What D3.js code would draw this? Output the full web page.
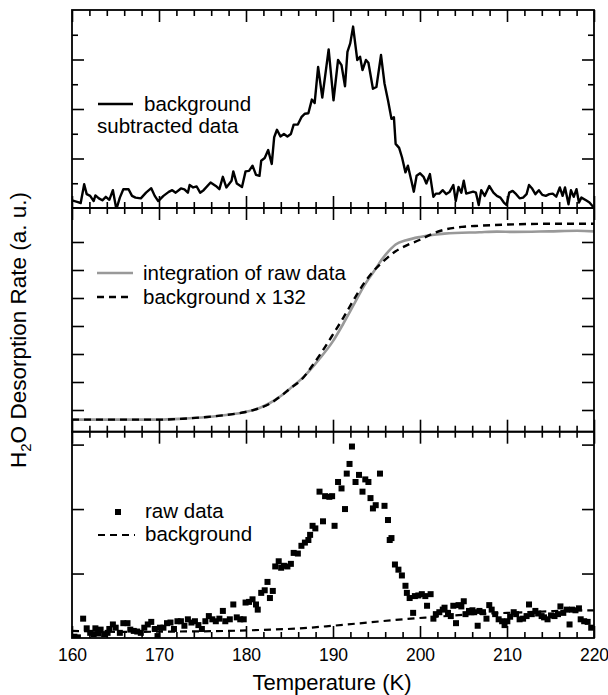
<!DOCTYPE html>
<html>
<head>
<meta charset="utf-8">
<script src="https://cdn.jsdelivr.net/npm/d3@7"></script>
<style>
  body { margin: 0; background: #fff; }
  text { font-family: Arial, "Liberation Sans", sans-serif; fill: #000; }
</style>
</head>
<body>
<svg id="chart" width="608" height="695"></svg>
<script>
// ---- data ----
// top panel: background subtracted data
let subT = [160.0,160.68,161.0,161.4,161.69,162.09,162.49,162.69,163.09,163.49,163.89,164.29,164.7,165.1,165.5,165.9,166.5,166.9,167.3,167.91,168.51,169.11,169.51,169.91,170.51,171.12,171.52,171.92,172.52,172.92,173.32,173.52,173.93,174.33,174.73,175.13,175.93,176.53,176.94,177.34,177.74,178.34,178.54,178.94,179.54,179.95,180.35,180.75,181.15,181.55,181.75,182.15,182.55,182.96,183.24,183.56,183.96,184.36,184.76,185.16,185.48,185.96,186.37,186.77,187.17,187.57,187.89,188.29,188.77,189.5,190.06,190.58,190.98,191.38,191.66,191.98,192.31,192.79,193.11,193.39,193.79,194.07,194.59,194.99,195.52,195.92,196.32,196.72,197.0,197.2,197.6,197.93,198.33,198.61,199.01,199.29,199.61,200.01,200.41,200.73,201.14,201.54,201.82,202.22,202.62,203.02,203.42,203.83,204.11,204.43,204.75,205.03,205.31,205.71,206.11,206.43,206.75,207.04,207.44,207.96,208.44,208.84,209.24,209.64,209.96,210.25,210.65,211.05,211.45,211.85,212.25,212.53,212.86,213.26,213.66,214.06,214.46,214.86,215.26,215.66,216.07,216.39,216.67,217.07,217.35,217.67,217.99,218.27,218.55,219.08,219.48,220.0];
let subV = [0.31,0.24,0.2,0.96,0.56,0.49,0.28,0.51,0.39,0.31,0.45,0.33,0.72,-0.05,0.42,0.76,0.76,0.49,0.42,0.39,0.62,0.8,0.49,0.28,0.49,0.65,0.72,0.62,0.79,0.75,0.62,0.93,0.83,0.87,0.62,0.72,1.03,0.89,0.76,1.26,0.83,1.1,1.48,0.99,0.85,1.48,1.5,1.71,1.34,1.3,1.91,2.02,2.34,1.78,2.86,3.16,2.89,2.99,2.89,2.99,3.37,3.37,3.67,3.81,3.83,4.38,4.24,5.7,4.46,6.41,4.35,5.98,5.77,4.92,6.31,6.65,7.33,5.98,6.11,5.57,5.98,5.87,4.82,4.89,6.18,5.03,4.35,3.6,3.67,2.59,2.43,2.05,1.44,1.71,1.1,0.66,1.3,1.4,1.26,0.99,1.37,0.45,0.58,0.58,0.72,0.56,0.66,0.93,0.28,0.85,0.62,1.1,0.58,0.62,0.66,0.62,0.12,0.72,0.49,0.89,0.62,0.49,0.42,0.22,0.12,0.62,0.69,0.56,0.39,0.42,0.56,0.93,0.8,0.56,0.72,0.53,0.49,0.56,0.58,0.46,0.83,0.49,0.83,0.15,0.72,0.45,0.76,0.22,0.42,0.31,0.22,0.01];

// middle panel: integration of raw data (grey) and background x 132 (dashed)
let intT = [160,169.91,172.72,175.53,177.94,179.95,181.55,182.75,183.96,185.16,186.77,188.37,189.98,191.18,192.39,193.59,194.79,195.6,196.4,197.2,198.41,200.01,201.62,202.82,206.83,208.84,210.85,214.86,218.07,220];
let intV = [0.655,0.655,0.69,0.75,0.83,0.93,1.07,1.25,1.49,1.79,2.23,2.8,3.45,4.08,4.76,5.44,5.99,6.37,6.67,6.91,7.06,7.18,7.26,7.3,7.35,7.37,7.36,7.38,7.4,7.38];
let bgScT = [160,169.91,172.72,175.53,177.94,179.95,181.55,182.75,183.96,185.16,186.37,187.57,188.77,189.98,191.18,192.39,193.59,194.79,196.0,197.2,198.41,200.01,201.62,202.82,204.83,206.83,210.85,214.86,220];
let bgScV = [0.655,0.655,0.69,0.75,0.83,0.93,1.07,1.23,1.49,1.79,2.08,2.56,3.1,3.69,4.29,4.94,5.54,6.01,6.37,6.67,6.87,7.08,7.32,7.44,7.54,7.58,7.63,7.65,7.65];

// bottom panel: raw data (squares) and background (dashed)
let rawT = [160.28,160.68,161.28,161.69,162.09,162.49,162.69,163.01,163.29,163.69,164.09,164.29,164.7,165.02,165.5,165.9,166.38,166.7,167.1,167.5,167.91,168.31,168.71,169.11,169.51,169.83,170.11,170.51,170.92,171.32,171.72,172.12,172.52,172.92,173.32,173.73,174.13,174.53,174.93,175.33,175.73,176.13,176.53,176.94,177.34,177.62,178.14,178.54,178.94,179.34,179.74,179.95,180.35,180.75,181.15,181.35,181.75,182.15,182.47,182.75,183.08,183.36,183.76,184.04,184.36,184.76,185.16,185.48,185.96,186.37,186.77,187.17,187.37,187.65,187.97,188.45,188.85,189.09,189.58,189.9,190.18,190.58,190.98,191.38,191.58,191.9,192.18,192.59,192.99,193.39,193.71,194.07,194.31,194.59,194.91,195.4,195.92,196.32,196.52,196.72,197.12,197.52,197.92,198.33,198.49,198.81,199.21,199.41,199.81,200.21,200.61,200.81,201.22,201.54,201.82,202.22,202.62,202.82,203.22,203.54,203.83,204.14,204.43,204.75,205.03,205.23,205.63,206.03,206.23,206.63,206.83,207.24,207.64,207.96,208.24,208.64,209.04,209.44,209.72,210.04,210.36,210.77,211.05,211.45,211.85,212.25,212.53,212.85,213.26,213.58,213.98,214.26,214.66,215.06,215.46,215.86,216.14,216.47,216.87,217.19,217.47,217.87,218.27,218.47,218.87,219.27,219.68];
let rawV = [0.02,0.01,0.3,0.15,0.08,0.06,0.15,0.07,0.13,0.06,0.08,0.14,0.21,0.16,0.08,0.23,0.23,0.13,0.11,0.1,0.08,0.16,0.21,0.25,0.14,0.03,0.16,0.16,0.23,0.24,0.14,0.26,0.26,0.19,0.29,0.24,0.26,0.2,0.14,0.26,0.34,0.29,0.26,0.3,0.42,0.26,0.29,0.52,0.32,0.29,0.29,0.55,0.56,0.6,0.52,0.44,0.7,0.74,0.87,0.62,0.73,1.11,1.19,1.09,1.12,1.11,1.15,1.32,1.31,1.43,1.48,1.52,1.6,1.74,1.7,2.27,1.81,2.2,2.19,2.2,1.74,2.42,2.32,2.0,2.55,2.7,2.97,2.42,2.53,2.27,2.46,2.42,2.17,2.01,2.06,2.55,2.05,1.83,1.52,1.55,1.14,1.06,0.97,0.81,0.7,0.62,0.39,0.65,0.66,0.68,0.65,0.5,0.68,0.3,0.37,0.4,0.44,0.47,0.39,0.34,0.5,0.23,0.51,0.49,0.57,0.37,0.42,0.43,0.4,0.19,0.42,0.4,0.3,0.51,0.44,0.37,0.29,0.26,0.2,0.26,0.33,0.4,0.37,0.29,0.3,0.34,0.52,0.37,0.42,0.38,0.34,0.32,0.29,0.35,0.34,0.37,0.49,0.39,0.44,0.21,0.44,0.43,0.46,0.29,0.26,0.25,0.16];
let bgT = [160,165.9,171.92,177.94,181.95,185.96,189.98,194.0,198.0,202.0,206.03,210.04,214.05,218.07,220];
let bgV = [0.11,0.095,0.1,0.11,0.126,0.147,0.19,0.24,0.29,0.33,0.37,0.39,0.41,0.43,0.43];

let xMajor = [160,170,180,190,200,210,220];
let xMinor = d3.range(160, 221, 2).filter(t => t % 10 !== 0);

// ---- layout ----
let svg = d3.select('#chart');
let left = 72, right = 594;
let x = d3.scaleLinear().domain([160, 220]).range([left, right]);

let panels = [
  { id: 'top', y: d3.scaleLinear().domain([0, 8]).range([208, 10]), major: [2,4,6], minor: [1,3,5,7] },
  { id: 'mid', y: d3.scaleLinear().domain([0.225, 8.214]).range([431.7, 208]), major: [1,2,3,4,5,6,7], minor: [] },
  { id: 'bot', y: d3.scaleLinear().domain([0, 3.2]).range([638, 431.7]), major: [1,2,3], minor: [] }
];

panels.forEach((p) => {
  let [y0, y1] = p.y.range(); // bottom, top
  let g = svg.append('g').attr('id', p.id);
  p.g = g;

  // clip
  svg.append('clipPath').attr('id', 'clip-' + p.id)
    .append('rect').attr('x', left).attr('y', y1).attr('width', right - left).attr('height', y0 - y1);
  p.plot = g.append('g').attr('clip-path', 'url(#clip-' + p.id + ')');

  // x ticks, bottom and top, pointing in
  let bottomLabels = p.id === 'bot';
  g.append('g').attr('transform', `translate(0,${y0})`)
    .call(d3.axisBottom(x).tickValues(xMajor).tickSize(-12).tickPadding(bottomLabels ? 11 : 0)
      .tickFormat(bottomLabels ? d3.format('d') : ''));
  g.append('g').attr('transform', `translate(0,${y0})`)
    .call(d3.axisBottom(x).tickValues(xMinor).tickSize(-6).tickFormat(''));
  g.append('g').attr('transform', `translate(0,${y1})`)
    .call(d3.axisTop(x).tickValues(xMajor).tickSize(-12).tickFormat(''));
  g.append('g').attr('transform', `translate(0,${y1})`)
    .call(d3.axisTop(x).tickValues(xMinor).tickSize(-6).tickFormat(''));

  // y ticks, left and right, pointing in
  g.append('g').attr('transform', `translate(${left},0)`)
    .call(d3.axisLeft(p.y).tickValues(p.major).tickSize(-12).tickFormat(''));
  g.append('g').attr('transform', `translate(${right},0)`)
    .call(d3.axisRight(p.y).tickValues(p.major).tickSize(-12).tickFormat(''));
  if (p.minor.length) {
    g.append('g').attr('transform', `translate(${left},0)`)
      .call(d3.axisLeft(p.y).tickValues(p.minor).tickSize(-6).tickFormat(''));
    g.append('g').attr('transform', `translate(${right},0)`)
      .call(d3.axisRight(p.y).tickValues(p.minor).tickSize(-6).tickFormat(''));
  }

  g.selectAll('.domain').remove();
  g.selectAll('.tick line').attr('stroke', '#000').attr('stroke-width', 1.6);

  // frame
  g.append('rect').attr('x', left).attr('y', y1).attr('width', right - left).attr('height', y0 - y1)
    .attr('fill', 'none').attr('stroke', '#000').attr('stroke-width', 1.8);
});

svg.selectAll('#bot .tick text').attr('font-size', 17.5).attr('fill', '#000')
  .attr('font-family', 'Arial, "Liberation Sans", sans-serif');

// ---- top panel ----
let pTop = panels[0];
let lineTop = d3.line().x((d, i) => x(subT[i])).y((d) => pTop.y(d));
pTop.plot.append('path').datum(subV)
  .attr('d', lineTop).attr('fill', 'none').attr('stroke', '#000')
  .attr('stroke-width', 2.4).attr('stroke-linejoin', 'round');

// ---- middle panel ----
let pMid = panels[1];
pMid.plot.append('path').datum(intV)
  .attr('d', d3.line().curve(d3.curveMonotoneX).x((d, i) => x(intT[i])).y((d) => pMid.y(d)))
  .attr('fill', 'none').attr('stroke', '#999').attr('stroke-width', 2.6);
pMid.plot.append('path').datum(bgScV)
  .attr('d', d3.line().curve(d3.curveMonotoneX).x((d, i) => x(bgScT[i])).y((d) => pMid.y(d)))
  .attr('fill', 'none').attr('stroke', '#000').attr('stroke-width', 2.4).attr('stroke-dasharray', '7,5');

// ---- bottom panel ----
let pBot = panels[2];
pBot.plot.append('path').datum(bgV)
  .attr('d', d3.line().curve(d3.curveMonotoneX).x((d, i) => x(bgT[i])).y((d) => pBot.y(d)))
  .attr('fill', 'none').attr('stroke', '#000').attr('stroke-width', 2.2).attr('stroke-dasharray', '7,5');
pBot.plot.selectAll('rect.pt').data(rawV).enter().append('rect')
  .attr('class', 'pt')
  .attr('x', (d, i) => x(rawT[i]) - 3).attr('y', (d) => pBot.y(d) - 3)
  .attr('width', 6).attr('height', 6).attr('fill', '#000');

// ---- legends ----
let legFont = 20.5;
svg.append('line').attr('x1', 98).attr('x2', 133).attr('y1', 104).attr('y2', 104)
  .attr('stroke', '#000').attr('stroke-width', 2.6);
svg.append('text').attr('x', 144).attr('y', 111).attr('font-size', legFont).text('background');
svg.append('text').attr('x', 97).attr('y', 133).attr('font-size', legFont).text('subtracted data');

svg.append('line').attr('x1', 97).attr('x2', 133).attr('y1', 273).attr('y2', 273)
  .attr('stroke', '#999').attr('stroke-width', 2.6);
svg.append('text').attr('x', 143).attr('y', 280).attr('font-size', legFont).text('integration of raw data');
svg.append('line').attr('x1', 97).attr('x2', 133).attr('y1', 297).attr('y2', 297)
  .attr('stroke', '#000').attr('stroke-width', 2.4).attr('stroke-dasharray', '7,5');
svg.append('text').attr('x', 143).attr('y', 304).attr('font-size', legFont).text('background x 132');

svg.append('rect').attr('x', 115).attr('y', 509).attr('width', 6).attr('height', 6).attr('fill', '#000');
svg.append('text').attr('x', 145).attr('y', 518).attr('font-size', legFont).text('raw data');
svg.append('line').attr('x1', 98).attr('x2', 135).attr('y1', 535).attr('y2', 535)
  .attr('stroke', '#000').attr('stroke-width', 2.2).attr('stroke-dasharray', '7,5');
svg.append('text').attr('x', 145).attr('y', 541).attr('font-size', legFont).text('background');

// ---- axis titles ----
svg.append('text').attr('x', 332).attr('y', 690)
  .attr('text-anchor', 'middle').attr('font-size', 22).text('Temperature (K)');

let yl = svg.append('text')
  .attr('transform', 'translate(26,330) rotate(-90)')
  .attr('text-anchor', 'middle').attr('font-size', 22.5);
yl.append('tspan').text('H');
yl.append('tspan').attr('font-size', 15).attr('dy', 5).text('2');
yl.append('tspan').attr('dy', -5).text('O Desorption Rate (a. u.)');
</script>
</body>
</html>
